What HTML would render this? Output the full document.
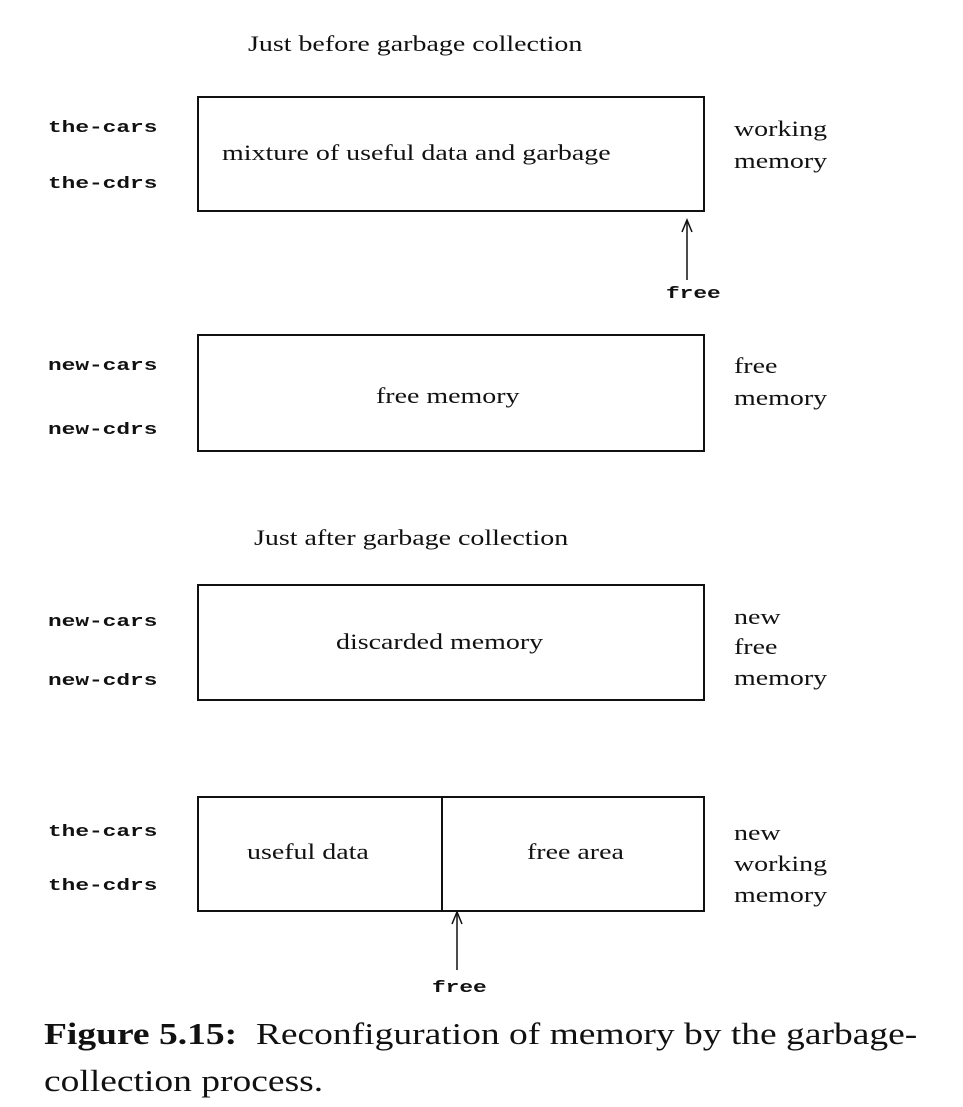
<!DOCTYPE html>
<html><head><meta charset="utf-8"><style>
body{margin:0;background:#fff;width:963px;height:1107px;position:relative;overflow:hidden}
.t{position:absolute;font-family:"Liberation Serif",serif;font-size:22px;color:#111;white-space:nowrap;line-height:1;transform:scaleX(1.27);transform-origin:left top}
.m{position:absolute;font-family:"Liberation Mono",monospace;font-size:17px;font-weight:bold;color:#111;white-space:nowrap;line-height:1;transform:scaleX(1.34);transform-origin:left top}
.b{position:absolute;border:2px solid #111;box-sizing:border-box}
.cap{position:absolute;left:44px;font-family:"Liberation Serif",serif;font-size:31px;color:#111;white-space:nowrap;line-height:1;transform:scaleX(1.21);transform-origin:left top}
</style></head><body>
<div class="t" style="left:248px;top:33px">Just before garbage collection</div>
<div class="m" style="left:48px;top:120px">the-cars</div>
<div class="m" style="left:48px;top:176px">the-cdrs</div>
<div class="b" style="left:197px;top:96px;width:508px;height:116px"></div>
<div class="t" style="left:222px;top:142px">mixture of useful data and garbage</div>
<div class="t" style="left:734px;top:118px">working</div>
<div class="t" style="left:734px;top:150px">memory</div>
<svg style="position:absolute;left:0;top:0" width="963" height="1107">
<line x1="687" y1="222" x2="687" y2="280" stroke="#111" stroke-width="1.5"/>
<polyline points="682,232 687,220 692,232" fill="none" stroke="#111" stroke-width="1.5"/>
<line x1="457" y1="912" x2="457" y2="970" stroke="#111" stroke-width="1.5"/>
<polyline points="452,924 457,912 462,924" fill="none" stroke="#111" stroke-width="1.5"/>
</svg>
<div class="m" style="left:666px;top:286px">free</div>
<div class="m" style="left:48px;top:358px">new-cars</div>
<div class="m" style="left:48px;top:422px">new-cdrs</div>
<div class="b" style="left:197px;top:334px;width:508px;height:118px"></div>
<div class="t" style="left:376px;top:385px">free memory</div>
<div class="t" style="left:734px;top:355px">free</div>
<div class="t" style="left:734px;top:387px">memory</div>
<div class="t" style="left:254px;top:527px">Just after garbage collection</div>
<div class="m" style="left:48px;top:614px">new-cars</div>
<div class="m" style="left:48px;top:673px">new-cdrs</div>
<div class="b" style="left:197px;top:584px;width:508px;height:117px"></div>
<div class="t" style="left:336px;top:631px">discarded memory</div>
<div class="t" style="left:734px;top:606px">new</div>
<div class="t" style="left:734px;top:636px">free</div>
<div class="t" style="left:734px;top:667px">memory</div>
<div class="m" style="left:48px;top:824px">the-cars</div>
<div class="m" style="left:48px;top:878px">the-cdrs</div>
<div class="b" style="left:197px;top:796px;width:508px;height:116px"></div>
<div style="position:absolute;left:441px;top:796px;width:2px;height:116px;background:#111"></div>
<div class="t" style="left:247px;top:841px">useful data</div>
<div class="t" style="left:527px;top:841px">free area</div>
<div class="t" style="left:734px;top:822px">new</div>
<div class="t" style="left:734px;top:853px">working</div>
<div class="t" style="left:734px;top:884px">memory</div>
<div class="m" style="left:432px;top:980px">free</div>
<div class="cap" style="top:1018px"><b>Figure 5.15:</b>&nbsp; Reconfiguration of memory by the garbage-</div>
<div class="cap" style="top:1065px">collection process.</div>
</body></html>
